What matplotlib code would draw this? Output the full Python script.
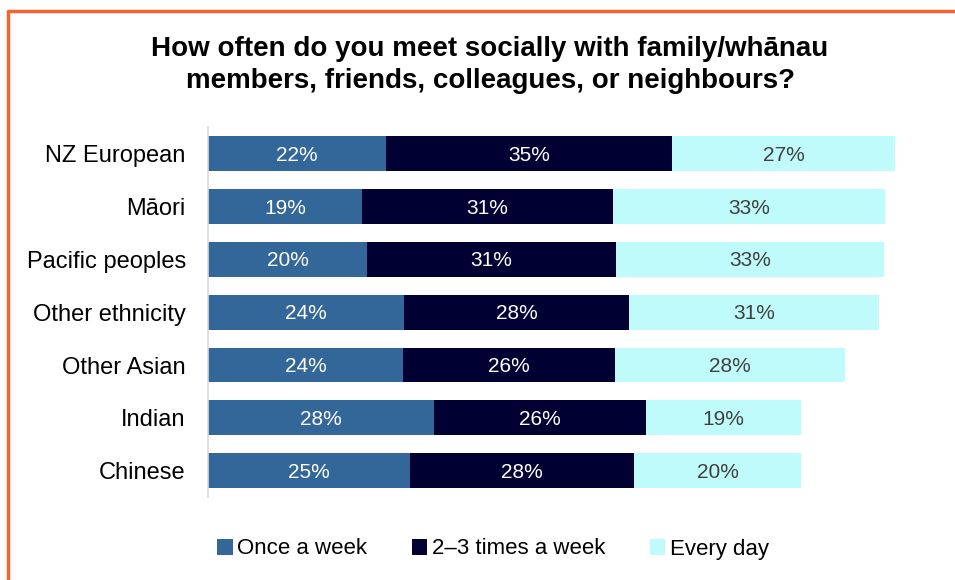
import numpy as np
import matplotlib.pyplot as plt
from matplotlib.patches import Patch

plt.rcParams['font.family'] = ['Liberation Sans', 'DejaVu Sans']

# data (shares in %)
groups = ['NZ European', 'Māori', 'Pacific peoples', 'Other ethnicity',
          'Other Asian', 'Indian', 'Chinese']
once_week = [21.8, 18.9, 19.5, 24.0, 23.9, 27.7, 24.8]
two_three = [35.1, 30.8, 30.6, 27.7, 26.0, 26.0, 27.5]
every_day = [27.4, 33.4, 32.9, 30.6, 28.2, 19.1, 20.5]
series_names = ['Once a week', '2\u20133 times a week', 'Every day']

colors = ['#336699', '#000033', '#C0FBFB']
text_colors = ['white', 'white', '#404040']

fig = plt.figure(figsize=(9.55, 5.8), dpi=100)
ax = fig.add_axes([208/955, 1-497/580, 733.5/955, 369.6/580])

y = np.arange(len(groups))
left = np.zeros(len(groups))
for vals, col, tcol in zip([once_week, two_three, every_day], colors, text_colors):
    vals = np.array(vals)
    ax.barh(y, vals, left=left, height=0.66, color=col, linewidth=0)
    for yi, l, v in zip(y, left, vals):
        ax.text(l + v/2, yi + 0.03, f'{v:.0f}%', ha='center', va='center',
                color=tcol, fontsize=15)
    left += vals

ax.set_xlim(0, 90)
ax.set_ylim(len(groups) - 0.5, -0.5)
ax.set_yticks(y, labels=groups, fontsize=17)
ax.set_xticks([])
ax.tick_params(axis='y', length=0, pad=16)
for s in ['top', 'right', 'bottom']:
    ax.spines[s].set_visible(False)
ax.spines['left'].set_color('#D9D9D9')
ax.spines['left'].set_linewidth(1.2)

fig.text(490/955, 1-65/580,
         'How often do you meet socially with family/wh\u0101nau\n'
         'members, friends, colleagues, or neighbours?',
         ha='center', va='center', fontsize=20, fontweight='bold',
         linespacing=1.35)

handles = [Patch(facecolor=c) for c in colors]
leg = fig.legend(handles, series_names, loc='center', ncol=3,
                 bbox_to_anchor=(493/955, 1-549/580), frameon=False,
                 handlelength=0.7, handleheight=0.7, handletextpad=0.2,
                 columnspacing=2.0,
                 prop={'family': ['Liberation Sans Narrow', 'Liberation Sans'],
                       'size': 16})

# orange frame on the left and top
fig.add_artist(plt.Line2D([8/955, 8/955, 1.0], [0.0, 1-11/580, 1-11/580],
                          transform=fig.transFigure, color='#F26430',
                          linewidth=2.5))

fig.savefig('out.png', dpi=100)
